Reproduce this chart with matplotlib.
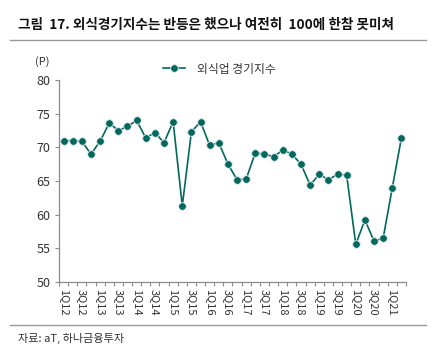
import matplotlib
matplotlib.use("Agg")
from matplotlib import pyplot as plt
import numpy as np

plt.rcParams['font.family'] = ['Noto Sans CJK KR', 'DejaVu Sans']

# quarterly index, 1Q12 .. 2Q21
quarters = [f"{q}Q{y:02d}" for y in range(12, 22) for q in range(1, 5)][:38]
index_values = [71.0, 71.0, 70.9, 69.0, 70.9, 73.6, 72.5, 73.1, 74.0, 71.4,
                72.2, 70.7, 73.8, 61.3, 72.3, 73.8, 70.3, 70.7, 67.5, 65.2,
                65.3, 69.2, 69.0, 68.6, 69.6, 69.0, 67.5, 64.4, 66.0, 65.2,
                66.0, 65.9, 55.6, 59.2, 56.1, 56.5, 64.0, 71.4]
series_name = "외식업 경기지수"
title = "그림  17. 외식경기지수는 반등은 했으나 여전히  100에 한참 못미쳐"
source = "자료: aT, 하나금융투자"

line_color = "#00695C"
axis_color = "#8c8c8c"
text_color = "#333333"

fig = plt.figure(figsize=(4.41, 3.55), dpi=100)
ax = fig.add_axes([0.1338, 0.2056, 0.7868, 0.569])

x = np.arange(len(index_values))
ax.plot(x, index_values, color=line_color, lw=1.2, marker='o', ms=5.5,
        mfc=line_color, mec="#e8e8f4", mew=0.6, label=series_name)

ax.set_xlim(-0.5, len(index_values) - 0.5)
ax.set_ylim(50, 80)
ax.set_yticks(range(50, 81, 5))

# category boundaries as ticks, labels every other quarter at centers
ax.set_xticks(np.arange(-0.5, len(index_values), 1.0))
ax.set_xticklabels([])
ax.set_xticks(x[::2], minor=True)
ax.set_xticklabels(quarters[::2], minor=True, rotation=270, fontsize=8,
                   color=text_color, va='top', ha='center')
ax.tick_params(axis='x', which='major', length=3, color=axis_color, width=0.8)
ax.tick_params(axis='x', which='minor', length=0, pad=5)
ax.tick_params(axis='y', length=3, color=axis_color, width=0.8,
               labelsize=9, labelcolor=text_color, pad=3)

for s in ['top', 'right']:
    ax.spines[s].set_visible(False)
for s in ['left', 'bottom']:
    ax.spines[s].set_color(axis_color)
    ax.spines[s].set_linewidth(0.9)

ax.legend(loc='center left', bbox_to_anchor=(163 / 441, 1 - 69 / 355),
          bbox_transform=fig.transFigure, frameon=False, borderpad=0,
          borderaxespad=0, fontsize=8.5, handlelength=1.9,
          handletextpad=1.0, labelcolor=text_color)

fig.text(42 / 441, 1 - 62 / 355, "(P)", fontsize=8, color=text_color,
         ha='center', va='center')

fig.text(18 / 441, 1 - 25 / 355, title, fontsize=9.8, fontweight='bold',
         color="#111111", ha='left', va='center')
fig.add_artist(plt.Line2D([10 / 441, 426 / 441], [1 - 40 / 355, 1 - 40 / 355],
                          color="#999999", lw=1.0))
fig.add_artist(plt.Line2D([10 / 441, 426 / 441], [1 - 325 / 355, 1 - 325 / 355],
                          color="#999999", lw=1.0))
fig.text(18 / 441, 1 - 338 / 355, source, fontsize=8, color=text_color,
         ha='left', va='center')

fig.savefig("out.png", dpi=100)
